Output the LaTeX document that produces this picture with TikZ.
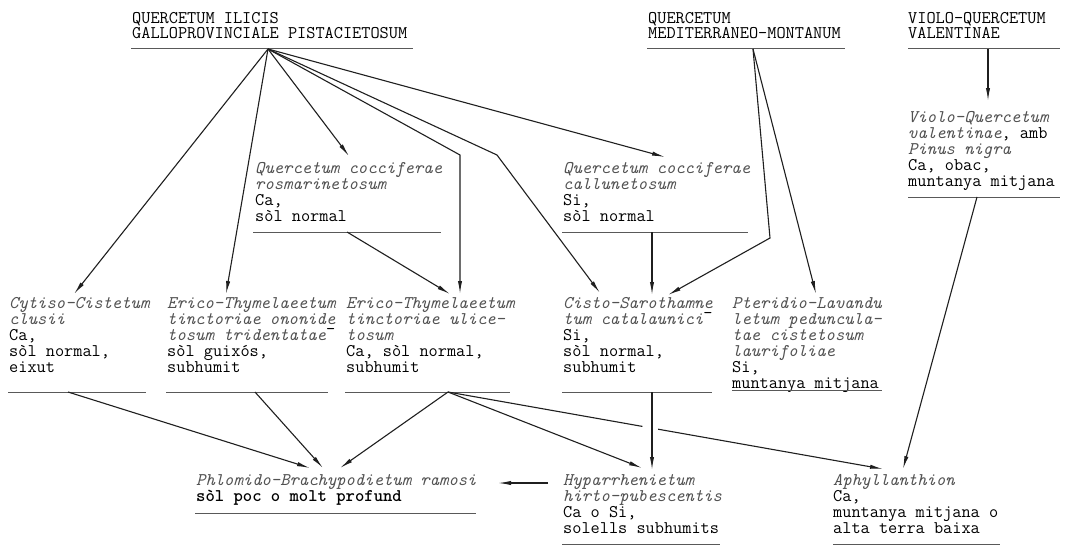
\documentclass[tikz,border=0pt]{standalone}
\usepackage{fontspec}
\usetikzlibrary{arrows.meta,calc}
\newcommand{\tb}[1]{\begin{tabular}[t]{@{}l@{}}#1\end{tabular}}
\newcommand{\hy}{\raisebox{0.3em}{-}}
\newcommand{\ita}[1]{{\itshape\color{black!68}#1}}
\tikzset{
  txt/.style={anchor=base west, inner sep=0pt, font=\ttfamily\fontsize{17.8}{16}\selectfont, text=black},
  rl/.style={line width=0.8pt, draw=black!65},
  con/.style={line width=1.1pt, draw=black!88},
  arr/.style={con, -{Latex[length=13pt,width=4.2pt]}},
}
\begin{document}
\begin{tikzpicture}[x=1pt,y=-1pt]
\useasboundingbox[fill=white] (0,0) rectangle (1067,546);

% ---------- text nodes ----------
\node[txt] (qi)  at (132,23) {\tb{QUERCETUM ILICIS\\GALLOPROVINCIALE PISTACIETOSUM}};
\node[txt] (med) at (648,23) {\tb{QUERCETUM\\MEDITERRANEO-MONTANUM}};
\node[txt] (vqh) at (908,23) {\tb{VIOLO-QUERCETUM\\VALENTINAE}};

\node[txt] (vio) at (908,122) {\tb{\ita{Violo-Quercetum}\\\ita{valentinae}, amb\\\ita{Pinus nigra}\\Ca, obac,\\muntanya mitjana}};
\node[txt] (ros) at (255,173) {\tb{\ita{Quercetum cocciferae}\\\ita{rosmarinetosum}\\Ca,\\sòl normal}};
\node[txt] (cal) at (563,173) {\tb{\ita{Quercetum cocciferae}\\\ita{callunetosum}\\Si,\\sòl normal}};

\node[txt] (cyt) at (9,308)   {\tb{\ita{Cytiso-Cistetum}\\\ita{clusii}\\Ca,\\sòl normal,\\eixut}};
\node[txt] (ono) at (167,308) {\tb{\ita{Erico-Thymelaeetum}\\\ita{tinctoriae ononide}\\\ita{tosum tridentatae}\hy\\sòl guixós,\\subhumit}};
\node[txt] (uli) at (346,308) {\tb{\ita{Erico-Thymelaeetum}\\\ita{tinctoriae ulice-}\\\ita{tosum}\\Ca, sòl normal,\\subhumit}};
\node[txt] (cis) at (563,308) {\tb{\ita{Cisto-Sarothamne}\\\ita{tum catalaunici}\hy\\Si,\\sòl normal,\\subhumit}};
\node[txt] (pte) at (732,308) {\tb{\ita{Pteridio-Lavandu}\\\ita{letum peduncula-}\\\ita{tae cistetosum}\\\ita{laurifoliae}\\Si,\\muntanya mitjana}};

\node[txt] (phl) at (196,485) {\tb{\ita{Phlomido-Brachypodietum ramosi}\\\textbf{sòl poc o molt profund}}};
\node[txt] (hyp) at (563,485) {\tb{\ita{Hyparrhenietum}\\\ita{hirto-pubescentis}\\Ca o Si,\\solells subhumits}};
\node[txt] (aph) at (833,485) {\tb{\ita{Aphyllanthion}\\Ca,\\muntanya mitjana o\\alta terra baixa}};

% ---------- rules under the nodes ----------
\draw[rl] (131,48) -- (413,48);
\draw[rl] (647,48) -- (845,48);
\draw[rl] (908,48) -- (1060,48);
\draw[rl] (908,197) -- (1060,197);
\draw[rl] (253,232) -- (441,232);
\draw[rl] (562,232) -- (748,232);
\draw[rl] (8,392) -- (146,392);
\draw[rl] (166,392) -- (328,392);
\draw[rl] (345,392) -- (510,392);
\draw[rl] (562,392) -- (712,392);
\draw[rl] (732,390) -- (882,390);
\draw[rl] (195,513) -- (476,513);
\draw[rl] (562,544) -- (720,544);
\draw[rl] (833,544) -- (1000,544);

% ---------- hubs, bends and arrow ends ----------
\coordinate (qiH)  at (268,49);
\coordinate (medH) at (753,49);
\coordinate (vqhH) at (988,49);
\coordinate (vioH) at (977,197);
\coordinate (rosH) at (347,232);
\coordinate (calH) at (652,232);
\coordinate (cytH) at (68,392);
\coordinate (onoH) at (255,392);
\coordinate (uliH) at (448,392);
\coordinate (cisH) at (652,392);

\coordinate (b1) at (460,155);
\coordinate (b2) at (497,155);
\coordinate (b3) at (770,238);

\coordinate (vioT)  at (988,101);
\coordinate (rosT)  at (349,156);
\coordinate (calT)  at (665,157);
\coordinate (cytT)  at (74,294);
\coordinate (onoT)  at (226,294);
\coordinate (uliT1) at (460,294);
\coordinate (uliT2) at (450,294);
\coordinate (cisT1) at (600,293);
\coordinate (cisT2) at (652,295);
\coordinate (cisT3) at (668,295);
\coordinate (pteT)  at (816,294);
\coordinate (phlT1) at (310,468);
\coordinate (phlT2) at (323,468);
\coordinate (phlT3) at (340,468);
\coordinate (phlE)  at (498,483);
\coordinate (hypW)  at (548,483);
\coordinate (hypT1) at (642,468);
\coordinate (hypT2) at (652,470);
\coordinate (aphT1) at (883,469);
\coordinate (aphT2) at (903,469);

% ---------- connectors ----------
\draw[arr] (qiH) -- (cytT);
\draw[arr] (qiH) -- (onoT);
\draw[arr] (qiH) -- (rosT);
\draw[arr] (qiH) -- (b1) -- (uliT1);
\draw[arr] (qiH) -- (b2) -- (cisT1);
\draw[arr] (qiH) -- (calT);
\draw[arr] (medH) -- (b3) -- (cisT3);
\draw[arr] (medH) -- (pteT);
\draw[arr] (vqhH) -- (vioT);
\draw[arr] (rosH) -- (uliT2);
\draw[arr] (calH) -- (cisT2);
\draw[arr] (vioH) -- (aphT2);
\draw[arr] (cytH) -- (phlT1);
\draw[arr] (onoH) -- (phlT2);
\draw[arr] (uliH) -- (phlT3);
\draw[arr] (uliH) -- (hypT1);
\draw[con] (uliH) -- ($(uliH)!0.447!(aphT1)$);
\draw[arr] ($(uliH)!0.483!(aphT1)$) -- (aphT1);
\draw[arr] (cisH) -- (hypT2);
\draw[arr] (hypW) -- (phlE);
\end{tikzpicture}
\end{document}
